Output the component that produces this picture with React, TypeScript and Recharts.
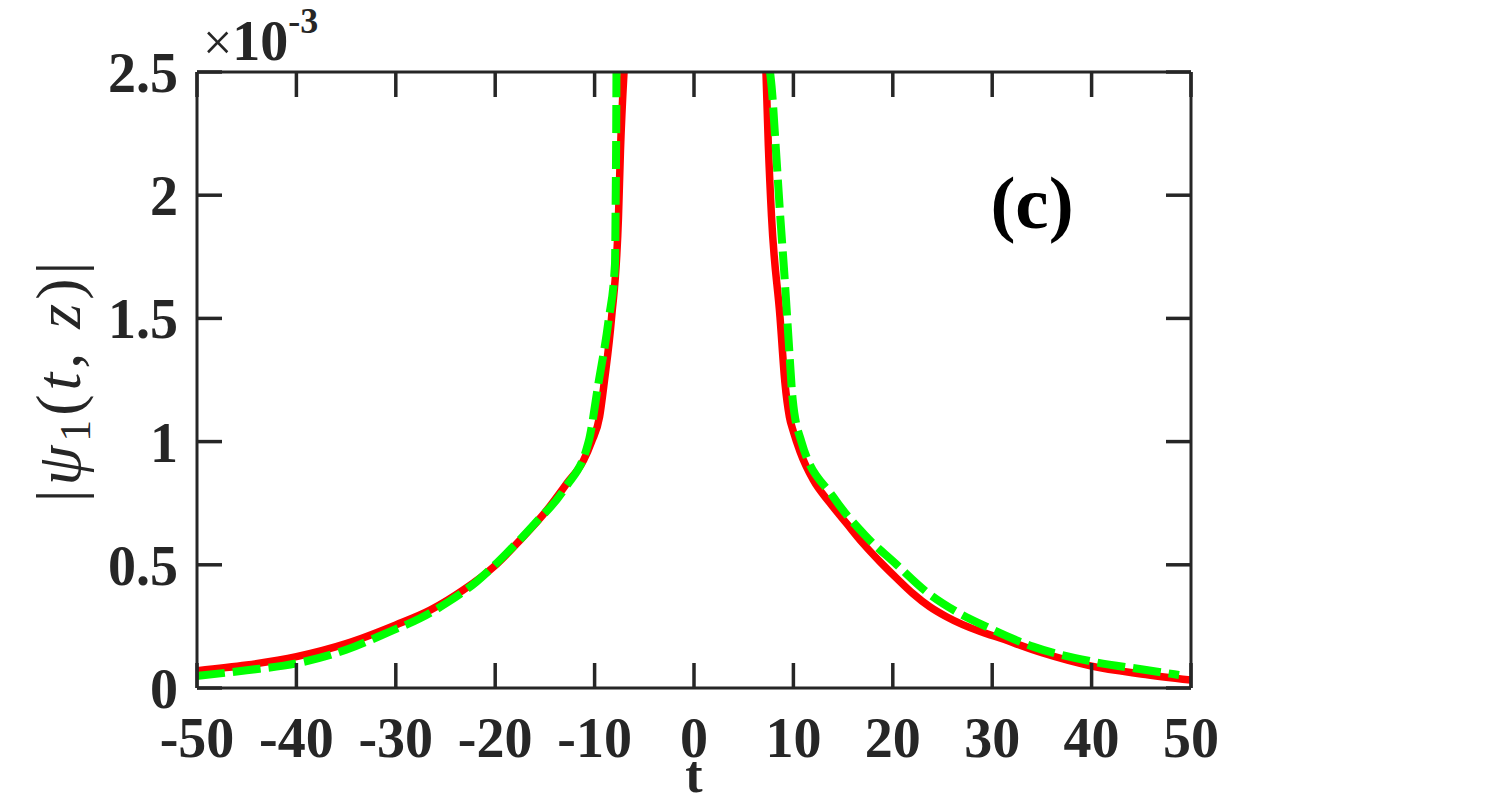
import React from 'react';
import { LineChart, Line, XAxis, YAxis } from 'recharts';

// |psi_1(t,z)| in units of 1e-3, two branches each side of the gap
const T_RED_L = [-50, -45, -40, -35, -30, -26.5, -23.2, -20.2, -17.5, -14.8, -12.8, -11.1, -10.3, -9.5, -9, -8.3, -7.6, -7.4, -7.04];
const V_RED_L = [0.07, 0.093, 0.127, 0.18, 0.256, 0.317, 0.398, 0.49, 0.6, 0.722, 0.83, 0.925, 1.0, 1.1, 1.25, 1.5, 1.91, 2.18, 2.5];
const T_RED_R = [7.24, 7.48, 7.8, 8.65, 9.15, 9.6, 10.0, 10.66, 12, 13.7, 15.35, 17, 18.7, 20.4, 22, 23.7, 25.4, 28.8, 30.4, 35, 40, 45, 50];
const V_RED_R = [2.5, 2.2, 1.913, 1.507, 1.238, 1.1, 1.04, 0.96, 0.844, 0.75, 0.668, 0.587, 0.513, 0.445, 0.384, 0.33, 0.289, 0.229, 0.208, 0.143, 0.089, 0.057, 0.032];

const T_GRN_L = [-50, -45, -40, -35, -30.6, -27.6, -24.7, -21.9, -18.85, -16, -13, -10.6, -9.6, -8.6, -7.95, -7.88, -7.83, -7.8];
const V_GRN_L = [0.049, 0.072, 0.1, 0.155, 0.229, 0.282, 0.35, 0.431, 0.547, 0.668, 0.81, 1.0, 1.24, 1.49, 1.72, 1.98, 2.23, 2.5];
const T_GRN_R = [7.65, 7.81, 8.25, 8.65, 9.09, 9.49, 9.93, 10.8, 14, 17.2, 20.4, 23.4, 26.4, 29.4, 34.1, 40.1, 45, 48.8];
const V_GRN_R = [2.5, 2.44, 2.18, 1.93, 1.68, 1.43, 1.17, 1.0, 0.776, 0.62, 0.5, 0.39, 0.31, 0.249, 0.168, 0.107, 0.076, 0.053];

const X_TICKS = [-50, -40, -30, -20, -10, 0, 10, 20, 30, 40, 50];
const Y_TICKS = [0, 0.5, 1, 1.5, 2, 2.5];

const branch = (ts: number[], vs: number[]) => ts.map((t, i) => ({ t, v: vs[i] as number | null }));
const join = (l: any[], r: any[]) => [...l, { t: 0, v: null }, ...r];

const red = join(branch(T_RED_L, V_RED_L), branch(T_RED_R, V_RED_R));
const green = join(branch(T_GRN_L, V_GRN_L), branch(T_GRN_R, V_GRN_R));

const ink = '#262626';
const serif = '"Liberation Serif", "Times New Roman", serif';
const axisLine = { stroke: ink, strokeWidth: 3 };
const TICK = 25;
const labelStyle = { fontSize: 56, fontWeight: 'bold' as const, fill: ink, fontFamily: serif };

// inward tick marks, MATLAB style
const BottomTick = (p: any) => (
  <g>
    <line x1={p.x} y1={p.y} x2={p.x} y2={p.y - TICK} stroke={ink} strokeWidth={3.5} />
    <text x={p.x} y={p.y + 69} textAnchor="middle" {...labelStyle}>{p.payload.value}</text>
  </g>
);
const TopTick = (p: any) => <line x1={p.x} y1={p.y} x2={p.x} y2={p.y + TICK} stroke={ink} strokeWidth={3.5} />;
const LeftTick = (p: any) => (
  <g>
    <line x1={p.x} y1={p.y} x2={p.x + TICK} y2={p.y} stroke={ink} strokeWidth={3.5} />
    <text x={p.x - 19} y={p.y + 20} textAnchor="end" {...labelStyle}>{p.payload.value}</text>
  </g>
);
const RightTick = (p: any) => <line x1={p.x} y1={p.y} x2={p.x - TICK} y2={p.y} stroke={ink} strokeWidth={3.5} />;

export default function App() {
  return (
    <div style={{ position: 'absolute', left: 0, top: 0, width: 1511, height: 803, background: '#fff' }}>
      <LineChart width={1511} height={803} margin={{ top: 71, right: 319, bottom: 55, left: 97 }}>
        <XAxis xAxisId="b" dataKey="t" type="number" domain={[-50, 50]} ticks={X_TICKS} allowDataOverflow
          height={60} tickSize={0} tickMargin={0} axisLine={axisLine} tickLine={false} tick={<BottomTick />} interval={0} />
        <XAxis xAxisId="t" orientation="top" dataKey="t" type="number" domain={[-50, 50]} ticks={X_TICKS} allowDataOverflow
          height={1} tickSize={0} tickMargin={0} axisLine={axisLine} tickLine={false} tick={<TopTick />} interval={0} />
        <YAxis yAxisId="l" type="number" domain={[0, 2.5]} ticks={Y_TICKS} allowDataOverflow
          width={100} tickSize={0} tickMargin={0} axisLine={axisLine} tickLine={false} tick={<LeftTick />} interval={0} />
        <YAxis yAxisId="r" orientation="right" type="number" domain={[0, 2.5]} ticks={Y_TICKS} allowDataOverflow
          width={1} tickSize={0} tickMargin={0} axisLine={axisLine} tickLine={false} tick={<RightTick />} interval={0} />
        <Line data={red} dataKey="v" xAxisId="t" yAxisId="r" type="monotone" stroke="#ff0000" strokeWidth={7.5}
          strokeLinecap="round" dot={false} activeDot={false} connectNulls={false} isAnimationActive={false} />
        <Line data={green} dataKey="v" xAxisId="b" yAxisId="l" type="monotone" stroke="#00ff00" strokeWidth={8}
          strokeDasharray="28 8" dot={false} activeDot={false} connectNulls={false} isAnimationActive={false} />
      </LineChart>
      <svg width={1511} height={803} style={{ position: 'absolute', left: 0, top: 0, pointerEvents: 'none' }}>
        <text x={203} y={60} fontFamily={serif} fill={ink}>
          <tspan fontSize={52}>×</tspan>
          <tspan fontSize={56} fontWeight="bold">10</tspan>
          <tspan fontSize={36} fontWeight="bold" dy={-27}>-3</tspan>
        </text>
        <text x={1032} y={228} textAnchor="middle" fontFamily={serif} fontSize={75} fontWeight="bold" fill="#000">(c)</text>
        <text x={694} y={792} textAnchor="middle" fontFamily={serif} fontSize={52} fontWeight="bold" fill={ink}>t</text>
        <text transform="translate(80, 380) rotate(-90)" textAnchor="middle" fontFamily={serif} fontSize={64}
          letterSpacing={4} fill={ink}>
          <tspan>|</tspan>
          <tspan fontStyle="italic">ψ</tspan>
          <tspan fontSize={44} dy={10}>1</tspan>
          <tspan dy={-10}>(</tspan>
          <tspan fontStyle="italic">t</tspan>
          <tspan>, </tspan>
          <tspan fontStyle="italic">z</tspan>
          <tspan>)|</tspan>
        </text>
      </svg>
    </div>
  );
}
